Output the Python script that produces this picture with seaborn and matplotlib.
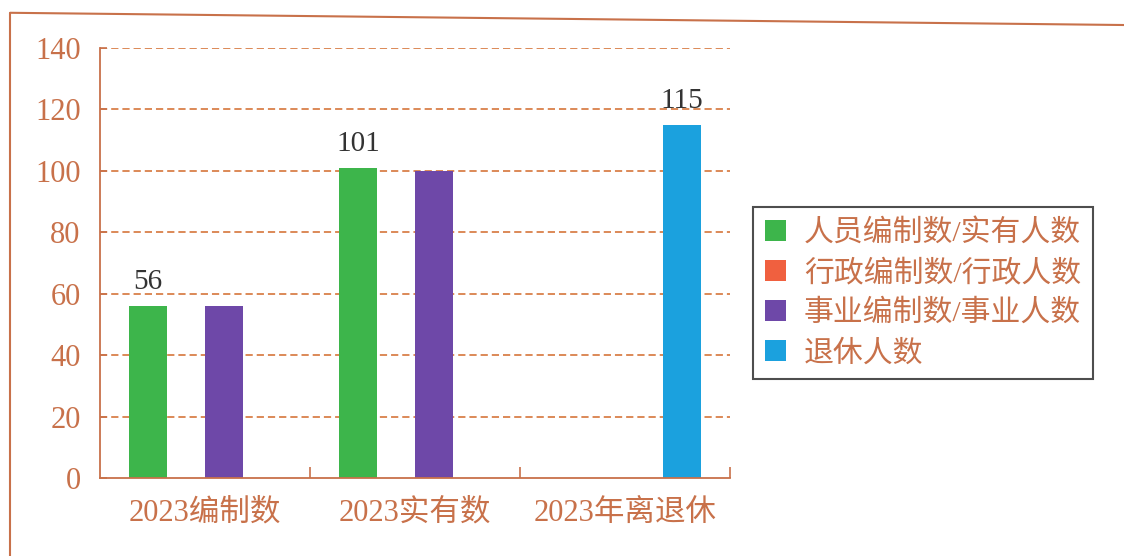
import matplotlib
matplotlib.use('Agg')
import matplotlib.pyplot as plt
import pandas as pd
import seaborn as sns
from matplotlib.lines import Line2D

categories = ['2023编制数', '2023实有数', '2023年离退休']
series = ['人员编制数/实有人数', '行政编制数/行政人数', '事业编制数/事业人数', '退休人数']
staff = [56, 101, 0]
admin = [0, 0, 0]
institution = [56, 100, 0]
retired = [0, 0, 115]
label_staff = ['56', '101', '']
label_retired = ['', '', '115']
yticks = [0, 20, 40, 60, 80, 100, 120, 140]

colors = ['#3db54b', '#f0603f', '#6e48a8', '#1ba1de']
brown = '#c8714a'

sns.set_theme(style='white')
plt.rcParams['font.family'] = ['Liberation Serif', 'Noto Sans CJK SC', 'DejaVu Sans']

df = pd.DataFrame({
    'category': categories * 4,
    'series': [s for s in series for _ in categories],
    'value': staff + admin + institution + retired,
})

fig = plt.figure(figsize=(11.24, 5.56), dpi=100)
ax = fig.add_axes([0.089, 0.1403, 0.5605, 0.7734])

sns.barplot(data=df, x='category', y='value', hue='series', hue_order=series,
            palette=colors, width=0.724, gap=0, saturation=1, ax=ax,
            edgecolor='none')

ax.bar_label(ax.containers[0], labels=label_staff, padding=8,
             fontsize=21, color='#333333')
ax.bar_label(ax.containers[3], labels=label_retired, padding=8,
             fontsize=21, color='#333333')

ax.set_xlim(-0.5, 2.5)
ax.set_ylim(0, 140)
ax.set_yticks(yticks)
ax.set_xlabel('')
ax.set_ylabel('')

for y in yticks[1:]:
    ax.axhline(y, color='#d9804a', lw=1.3, dashes=(4, 2.2), zorder=0)

for side in ['top', 'right']:
    ax.spines[side].set_visible(False)
for side in ['left', 'bottom']:
    ax.spines[side].set_color(brown)
    ax.spines[side].set_linewidth(1.3)

ax.tick_params(axis='y', direction='in', length=5, width=1.2, color=brown,
               labelcolor=brown, labelsize=22, pad=14, left=True)
ax.tick_params(axis='x', which='major', length=0, labelcolor=brown,
               labelsize=22, pad=15)
ax.set_xticks([0.5, 1.5, 2.5], minor=True)
ax.tick_params(axis='x', which='minor', direction='in', length=8, width=1.2,
               color=brown, bottom=True)

ax.legend(loc='center left', bbox_to_anchor=(0.67, 0.473),
          bbox_transform=fig.transFigure, frameon=True, fancybox=False,
          edgecolor='#222222', fontsize=21.5, labelcolor=brown,
          handlelength=0.7, handleheight=0.7, handletextpad=0.6,
          labelspacing=0.42, borderpad=0.4, borderaxespad=0, title=None)
ax.get_legend().get_frame().set_linewidth(1.5)

# outer frame of the scanned page
fig.add_artist(Line2D([0.009, 0.009], [0.0, 0.977], color=brown, lw=1.5,
                      transform=fig.transFigure))
fig.add_artist(Line2D([0.009, 1.0], [0.977, 0.955], color=brown, lw=1.5,
                      transform=fig.transFigure))

fig.savefig('out.png', dpi=100)
